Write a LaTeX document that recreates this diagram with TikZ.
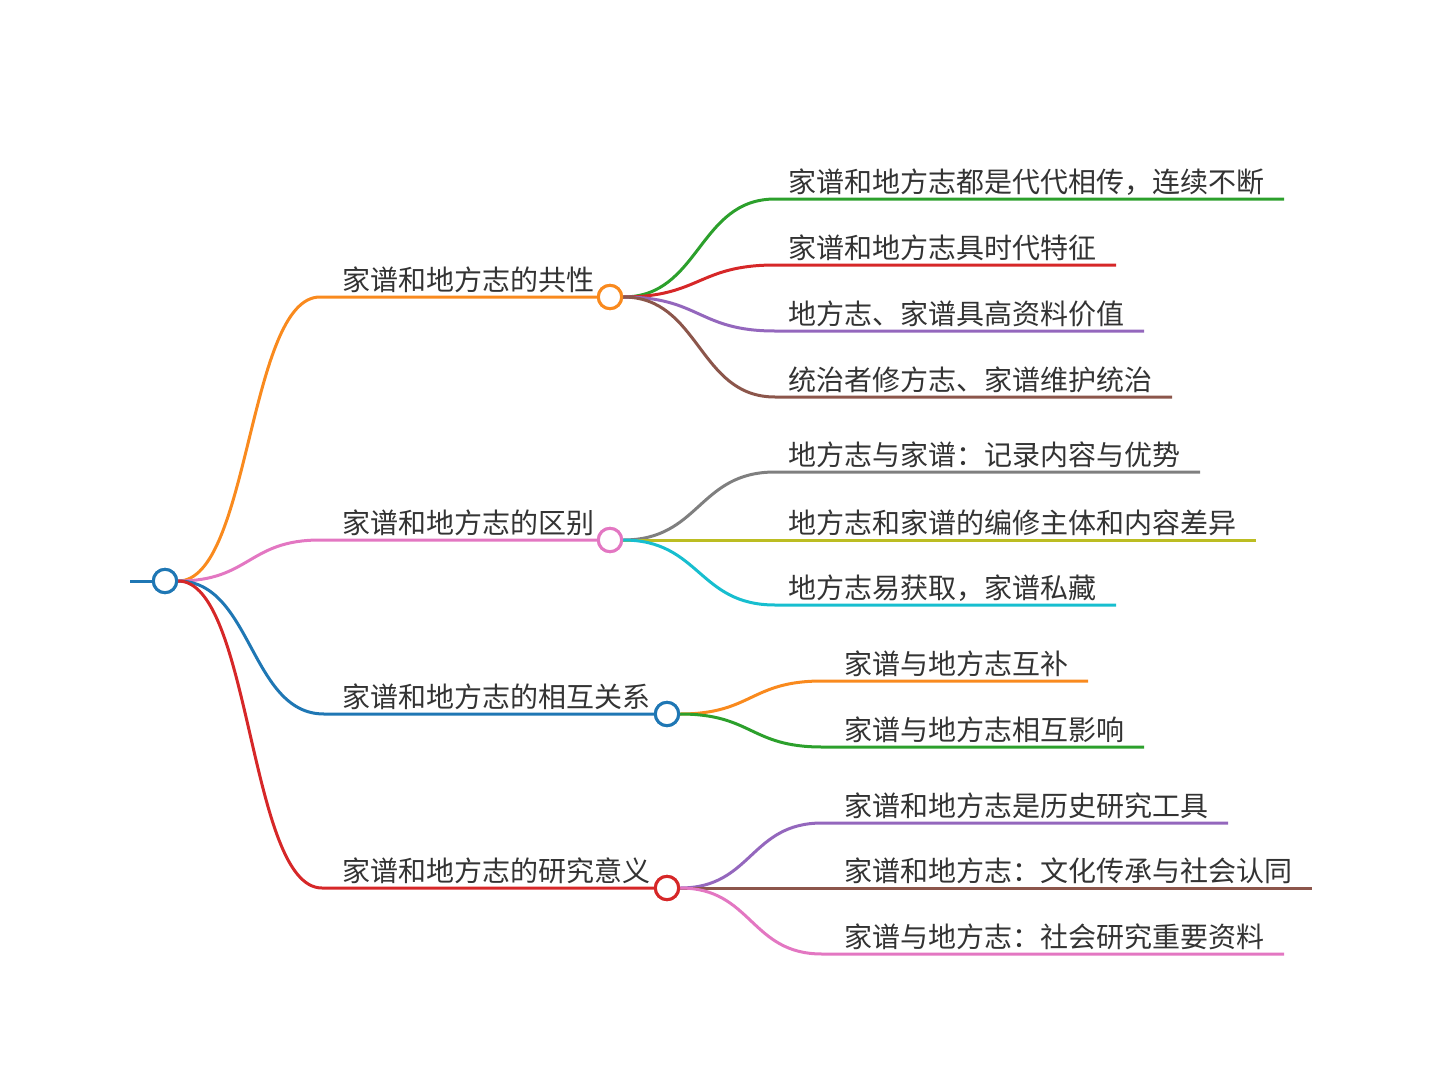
\documentclass[tikz,border=0pt]{standalone}
\usepackage{fontspec}
\newfontfamily\cjk{Noto Sans CJK SC}
\definecolor{tblue}{HTML}{1F77B4}
\definecolor{torange}{HTML}{F98A1E}
\definecolor{tgreen}{HTML}{2CA02C}
\definecolor{tred}{HTML}{D62728}
\definecolor{tpurple}{HTML}{9467BD}
\definecolor{tbrown}{HTML}{8C564B}
\definecolor{tpink}{HTML}{E377C2}
\definecolor{tgray}{HTML}{7F7F7F}
\definecolor{tolive}{HTML}{BCBD22}
\definecolor{tcyan}{HTML}{17BECF}
\definecolor{txt}{HTML}{333333}
\begin{document}
\begin{tikzpicture}[x=0.75pt,y=-0.75pt,
  hub/.style={circle,draw,fill=white,line width=2.25pt,minimum size=17.5pt,inner sep=0pt},
  lbl/.style={anchor=base west,inner sep=0pt,text=txt,font=\cjk\fontsize{21pt}{25pt}\selectfont},
  edge/.style={line width=2.25pt}]
\useasboundingbox (0,0) rectangle (1440,1071);
% root
\coordinate (r0) at (130,581);
\node[hub,draw=tblue] (root) at (165,581) {};
\draw[edge,tblue] (r0) -- (root.west);

% branch hubs
\node[hub,draw=torange] (b1) at (610,297) {};
\node[hub,draw=tpink] (b2) at (610,540) {};
\node[hub,draw=tblue] (b3) at (667,714) {};
\node[hub,draw=tred] (b4) at (667,888) {};

\coordinate (b1s) at (320,297);
\coordinate (b2s) at (320,540);
\coordinate (b3s) at (324,714);
\coordinate (b4s) at (322,888);

\node[lbl] (t1) at (342,290) {家谱和地方志的共性};
\node[lbl] (t2) at (342,533) {家谱和地方志的区别};
\node[lbl] (t3) at (342,707) {家谱和地方志的相互关系};
\node[lbl] (t4) at (342,881) {家谱和地方志的研究意义};

\draw[edge,torange] (root.east) .. controls +(72,0) and +(-72,0) .. (b1s) -- (b1.west);
\draw[edge,tpink] (root.east) .. controls +(72,0) and +(-72,0) .. (b2s) -- (b2.west);
\draw[edge,tblue] (root.east) .. controls +(74,0) and +(-74,0) .. (b3s) -- (b3.west);
\draw[edge,tred] (root.east) .. controls +(73,0) and +(-73,0) .. (b4s) -- (b4.west);
\node[hub,draw=tblue] at (root) {};

% children of branch 1
\foreach \n/\y/\xe/\c/\t in {
  11/199/1284/tgreen/家谱和地方志都是代代相传，连续不断,
  12/265/1116/tred/家谱和地方志具时代特征,
  13/331/1144/tpurple/地方志、家谱具高资料价值,
  14/397/1172/tbrown/统治者修方志、家谱维护统治}{
  \coordinate (k\n s) at (775,\y);
  \coordinate (k\n e) at (\xe,\y);
  \node[lbl] (k\n) at (788,\y-7) {\t};
  \draw[edge,\c] (b1.east) .. controls +(77,0) and +(-77,0) .. (k\n s) -- (k\n e);
}
\node[hub,draw=torange] at (b1) {};

% children of branch 2
\foreach \n/\y/\xe/\c/\t in {
  21/472/1200/tgray/地方志与家谱：记录内容与优势,
  22/540/1256/tolive/地方志和家谱的编修主体和内容差异,
  23/605/1116/tcyan/地方志易获取，家谱私藏}{
  \coordinate (k\n s) at (775,\y);
  \coordinate (k\n e) at (\xe,\y);
  \node[lbl] (k\n) at (788,\y-7) {\t};
  \draw[edge,\c] (b2.east) .. controls +(77,0) and +(-77,0) .. (k\n s) -- (k\n e);
}
\node[hub,draw=tpink] at (b2) {};

% children of branch 3
\foreach \n/\y/\xe/\c/\t in {
  31/681/1088/torange/家谱与地方志互补,
  32/747/1144/tgreen/家谱与地方志相互影响}{
  \coordinate (k\n s) at (822,\y);
  \coordinate (k\n e) at (\xe,\y);
  \node[lbl] (k\n) at (844,\y-7) {\t};
  \draw[edge,\c] (b3.east) .. controls +(72,0) and +(-72,0) .. (k\n s) -- (k\n e);
}
\node[hub,draw=tblue] at (b3) {};

% children of branch 4
\foreach \n/\y/\xe/\c/\t in {
  41/823/1228/tpurple/家谱和地方志是历史研究工具,
  42/888/1312/tbrown/家谱和地方志：文化传承与社会认同,
  43/954/1284/tpink/家谱与地方志：社会研究重要资料}{
  \coordinate (k\n s) at (822,\y);
  \coordinate (k\n e) at (\xe,\y);
  \node[lbl] (k\n) at (844,\y-7) {\t};
  \draw[edge,\c] (b4.east) .. controls +(72,0) and +(-72,0) .. (k\n s) -- (k\n e);
}
\node[hub,draw=tred] at (b4) {};
\end{tikzpicture}
\end{document}
